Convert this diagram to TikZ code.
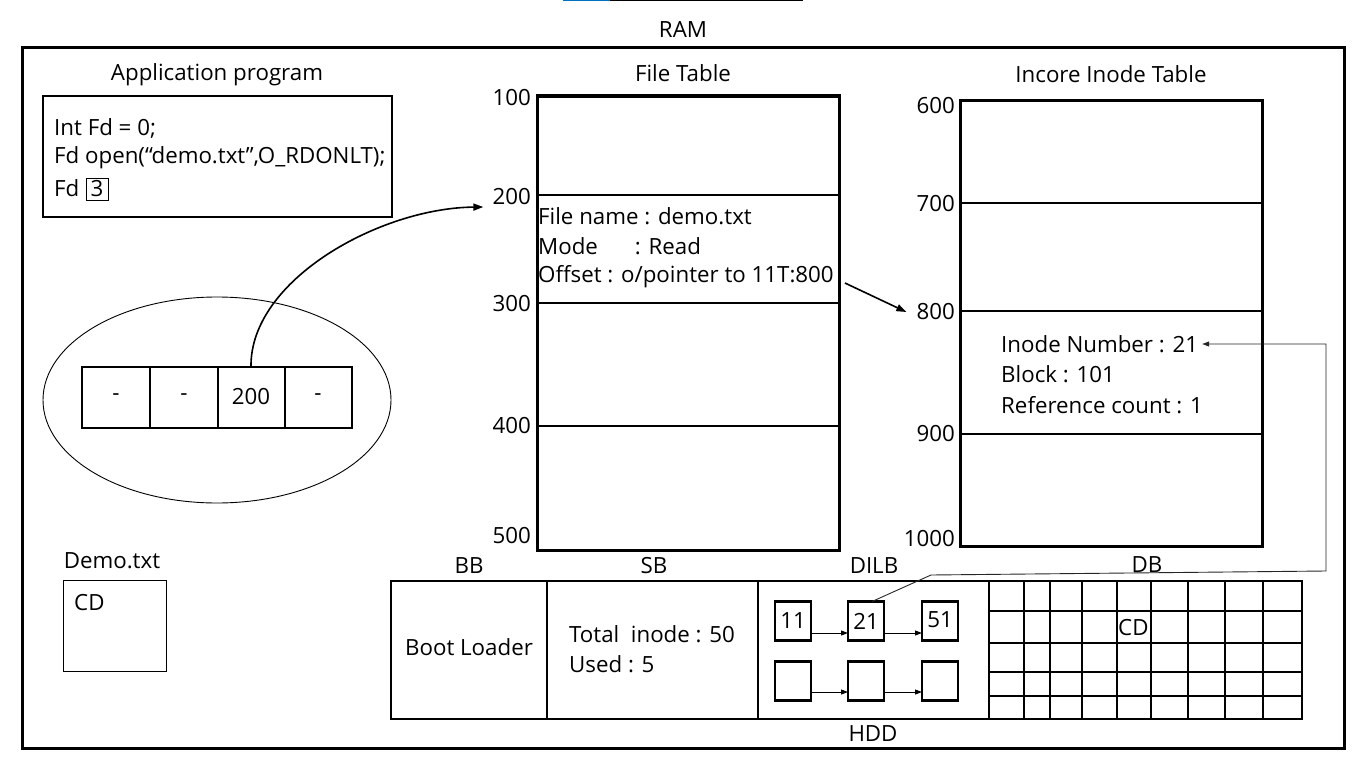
\documentclass[tikz,border=0pt]{standalone}
\usepackage{fontspec}
\setmainfont{Open Sans}
\usetikzlibrary{arrows.meta,calc,shapes.geometric}
\begin{document}
\begin{tikzpicture}[x=1pt,y=-1pt,
  font=\fontsize{22.3}{26}\selectfont,
  frame/.style={draw,line width=2pt,inner sep=0pt,outer sep=0pt,anchor=north west},
  tbl/.style={draw,line width=3pt,inner sep=0pt,outer sep=0pt,anchor=north west},
  txt/.style={inner sep=0pt,anchor=west},
  lbl/.style={inner sep=0pt,anchor=east},
  ttl/.style={inner sep=0pt},
  cell/.style={draw,line width=2pt,inner sep=0pt,outer sep=0pt,minimum height=61pt},
  dbox/.style={draw,line width=2.8pt,inner sep=0pt,outer sep=0pt,minimum width=36pt,minimum height=39pt},
  thin/.style={line width=0.9pt},
  tip/.style={-{Triangle[length=7pt,width=5pt]}}
]
\useasboundingbox (0,0) rectangle (1366,768);
% top line
\draw[line width=1.5pt,color={rgb,255:red,0;green,112;blue,192}] (563,0.75) -- (610,0.75);
\draw[line width=1.5pt] (610,0.75) -- (803,0.75);
% RAM
\node[ttl] (ram) at (683,30) {RAM};
\node[draw,line width=3pt,inner sep=0pt,outer sep=0pt,anchor=north west,minimum width=1322pt,minimum height=700pt] (outer) at (22,48) {};

% Application program
\node[ttl] (apptitle) at (217,75) {Application program};
\node[frame,minimum width=349pt,minimum height=121pt] (app) at (43,96) {};
\node[txt] (l1) at (54,128) {Int Fd = 0;};
\node[txt] (l2) at (54,158) {Fd open(“demo.txt”,O\_RDONLT);};
\node[txt] (l3) at (54,188) {Fd};
\node[draw,line width=0.9pt,inner sep=0pt,minimum width=22pt,minimum height=22pt] (three) at (97,189) {3};

% ellipse with descriptor table
\node[draw,thin,ellipse,minimum width=348pt,minimum height=206pt] (ell) at (217,400) {};
\node[cell,minimum width=68pt] (c1) at (116,397) {-};
\node[cell,minimum width=68pt] (c2) at (184,397) {-};
\node[cell,minimum width=67pt] (c3) at (251,397) {\raisebox{-2pt}{200}};
\node[cell,minimum width=67pt] (c4) at (318,397) {-};

% File table
\node[ttl] (fttitle) at (683,73) {File Table};
\node[tbl,minimum width=302pt,minimum height=454pt] (ft) at (537,96) {};
\draw[line width=2pt] (537,195) -- (839,195);
\draw[line width=2pt] (537,303) -- (839,303);
\draw[line width=2pt] (537,426) -- (839,426);
\node[lbl] (f100) at (531,98) {100};
\node[lbl] (f200) at (531,197) {200};
\node[lbl] (f300) at (531,304) {300};
\node[lbl] (f400) at (531,426) {400};
\node[lbl] (f500) at (531,536) {500};
\node[txt] (fn) at (538,216) {File name : demo.txt};
\node[txt] (fm) at (538,246) {Mode \hspace{1.4em}: Read};
\node[txt] (fo) at (538,277) {Offset : o/pointer to 11T:800};

% Incore inode table
\node[ttl] (ittitle) at (1111,74) {Incore Inode Table};
\node[tbl,minimum width=302pt,minimum height=446pt] (it) at (960,100) {};
\draw[line width=2pt] (960,203) -- (1262,203);
\draw[line width=2pt] (960,311) -- (1262,311);
\draw[line width=2pt] (960,434) -- (1262,434);
\node[lbl] (i600) at (955,106) {600};
\node[lbl] (i700) at (955,204) {700};
\node[lbl] (i800) at (955,312) {800};
\node[lbl] (i900) at (955,434) {900};
\node[lbl] (i1000) at (955,539) {1000};
\node[txt] (inum) at (1001,344) {Inode Number : 21};
\node[txt] (iblk) at (1001,374) {Block : 101};
\node[txt] (iref) at (1001,405) {Reference count : 1};

% connectors
\draw[line width=1.6pt,-{Triangle[length=10pt,width=7pt]}] (c3.north) .. controls (250,280) and (380,208) .. ($(f200.west)+(-9,10)$);
\draw[line width=1.6pt,-{Triangle[length=10pt,width=7pt]}] ($(fo.east)+(11,6)$) -- ($(i800.west)+(-10,0)$);

% Demo.txt
\node[ttl] (demotitle) at (112,561) {Demo.txt};
\node[draw,thin,inner sep=0pt,anchor=north west,minimum width=103pt,minimum height=91pt] (demo) at (63,580) {};
\node[txt] (democd) at (74,603) {CD};

% HDD
\node[ttl] (bb) at (469,566) {BB};
\node[ttl] (sb) at (654,566) {SB};
\node[ttl] (dilb) at (874,566) {DILB};
\node[ttl] (db) at (1147,565) {DB};
\node[ttl] (hdd) at (873,734) {HDD};
\node[frame,minimum width=911pt,minimum height=138pt] (disk) at (391,581) {};
\draw[line width=2pt] (547,581) -- (547,719);
\draw[line width=2pt] (758,581) -- (758,719);
\node[ttl] (boot) at (469,647) {Boot Loader};
\node[txt] (tot) at (569,634) {Total\ \ inode : 50};
\node[txt] (used) at (569,664) {Used : 5};

% DILB boxes
\node[dbox] (b11) at (793,621) {\raisebox{-2pt}{11}};
\node[dbox] (b21) at (866,621) {\raisebox{-2pt}{21}};
\node[dbox] (b51) at (940,621) {\raisebox{2pt}{51}};
\node[dbox] (e1) at (793,681) {};
\node[dbox] (e2) at (866,681) {};
\node[dbox] (e3) at (940,681) {};
\draw[thin,tip] ($(b11.east)+(0,12)$) -- ($(b21.west)+(0,12)$);
\draw[thin,tip] ($(b21.east)+(0,12)$) -- ($(b51.west)+(0,12)$);
\draw[thin,tip] ($(e1.east)+(0,11)$) -- ($(e2.west)+(0,11)$);
\draw[thin,tip] ($(e2.east)+(0,11)$) -- ($(e3.west)+(0,11)$);

% DB grid
\foreach \x in {989,1024,1050,1082,1117,1151,1188,1225,1263} \draw[line width=2pt] (\x,581) -- (\x,719);
\foreach \y in {611,643,672,696} \draw[line width=2pt] (989,\y) -- (1302,\y);
\node[inner sep=0pt,anchor=west] (dbcd) at (1118,628) {CD};

% inode link
\coordinate (k1) at (931,575);
\coordinate (k2) at (1326,571);
\coordinate (k3) at (1326,344);
\draw[thin,color=black!85,tip] ($(b21.north)+(6,0)$) -- (k1) -- (k2) -- (k3) -- ($(inum.east)+(4,0)$);
\end{tikzpicture}
\end{document}
